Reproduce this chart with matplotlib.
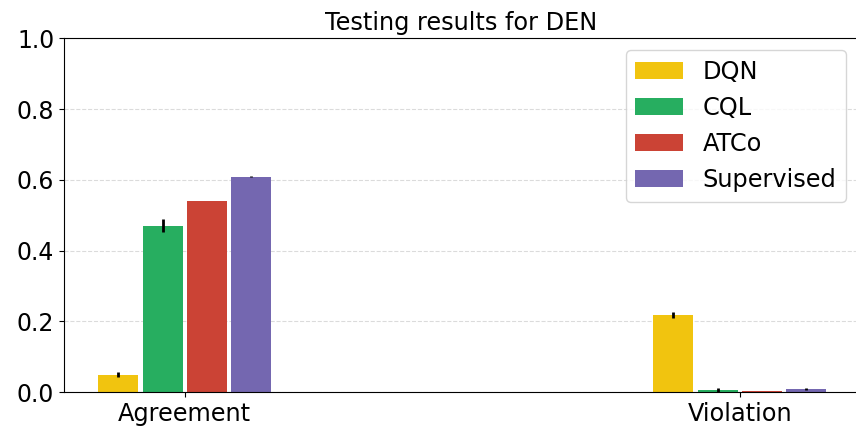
import numpy as np
import matplotlib
matplotlib.use("Agg")
import matplotlib.pyplot as plt

metrics = ["Agreement", "Violation"]
methods = ["DQN", "CQL", "ATCo", "Supervised"]
means = {
    "DQN": [0.049, 0.218],
    "CQL": [0.470, 0.006],
    "ATCo": [0.540, 0.004],
    "Supervised": [0.609, 0.008],
}
errors = {
    "DQN": [0.008, 0.009],
    "CQL": [0.018, 0.005],
    "ATCo": [0.0, 0.0],
    "Supervised": [0.002, 0.002],
}
colors = {
    "DQN": "#f1c40f",
    "CQL": "#27ae60",
    "ATCo": "#cb4335",
    "Supervised": "#7467b0",
}

fig = plt.figure(figsize=(8.56, 4.26), dpi=100)
ax = fig.add_axes([64 / 856, 1 - 392 / 426, (858 - 64) / 856, (392 - 38.3) / 426])

x = np.arange(len(metrics))
step = 0.08
bar_w = 0.072
for i, m in enumerate(methods):
    offset = (i - 1.5) * step
    ax.bar(x + offset, means[m], bar_w, yerr=errors[m], color=colors[m],
           label=m, error_kw=dict(ecolor="black", elinewidth=2, capsize=0))

ax.set_xlim(-0.2175, 1.213)
ax.set_ylim(0, 1.0)
ax.set_xticks(x)
ax.set_xticklabels(metrics, fontsize=17.3)
ax.tick_params(axis="y", labelsize=17)
ax.set_title("Testing results for DEN", fontsize=17.3)
ax.yaxis.grid(True, linestyle="--", color="#cccccc", alpha=0.7)
ax.set_axisbelow(True)
ax.legend(loc="upper right", fontsize=17.3)

fig.savefig("out.png", dpi=100)
